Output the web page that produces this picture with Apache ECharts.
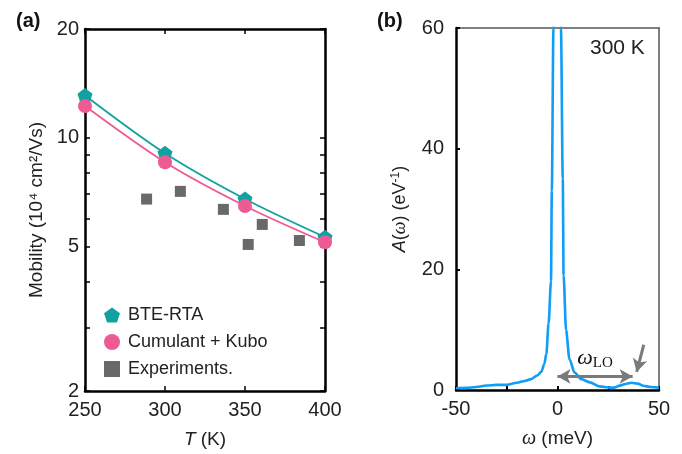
<!DOCTYPE html>
<html><head><meta charset="utf-8">
<script src="https://cdn.jsdelivr.net/npm/echarts@6/dist/echarts.min.js"></script>
<style>html,body{margin:0;padding:0;background:#fff}#c{width:682px;height:454px}</style>
</head><body><div id="c"></div>
<script>
// ---- Panel (a): mobility vs temperature ----
const temps = [250, 300, 350, 400];
const bteRta = [13.1, 9.07, 6.78, 5.32];
const cumulantKubo = [12.25, 8.57, 6.49, 5.15];
const expT = [288.5, 309.6, 336.5, 352, 360.8, 384];
const expMobility = [6.78, 7.12, 6.35, 5.08, 5.77, 5.21];
const mobilityLabels = [2, 5, 10, 20];
const mobilityTicks = [2, 3, 4, 5, 6, 7, 8, 9, 10, 20];

// ---- Panel (b): spectral function at 300 K ----
const omega = [-50, -45, -40, -35, -30, -25, -20, -16, -13, -10, -8, -6.5, -5.5, -4.4, -3.2, -2.8, -2.0, -1.2, -0.2, 0.8, 1.7, 2.6, 3.0, 4.2, 5.9, 8.4, 11.7, 15.9, 20.8, 25.8, 28, 30.7, 33.5, 36.5, 39.5, 42.3, 46, 50];
const spectral = [0.3, 0.35, 0.5, 0.75, 0.85, 0.85, 1.2, 1.5, 1.8, 2.4, 3.0, 4.3, 6, 11, 18, 33, 60, 85, 100, 85, 60, 35, 19, 10, 5.1, 2.9, 1.8, 1.27, 0.6, 0.4, 0.4, 0.72, 1.0, 1.2, 1.05, 0.7, 0.5, 0.4];
const omegaLabels = [-50, 0, 50];
const omegaLOArrow = [[0, 2.25], [37, 2.25]];
const pointerArrow = [[42.5, 7.5], [39, 3.0]];

const FONT = "'Liberation Sans', Helvetica, Arial, sans-serif";
const SERIF = "'Liberation Serif', 'DejaVu Serif', serif";
const pentagon = 'path://M0,-1 L0.951,-0.309 L0.588,0.809 L-0.588,0.809 L-0.951,-0.309 Z';
const TEAL = '#12A1A1', PINK = '#EE5B94', GREY = '#444444', BLUE = '#0F9DF7', ARROW = '#7a7a7a';

const zip = (a, b) => a.map((v, i) => [v, b[i]]);

const blackLine = {onZero: false, lineStyle: {color: '#000', width: 2.5}};
const greyLine = {onZero: false, lineStyle: {color: '#555', width: 1.5}};
const tickIn = {show: true, inside: true, length: 5, lineStyle: {color: '#000', width: 1.5}};
const lbl = {fontSize: 20, color: '#222', fontFamily: FONT};

const chart = echarts.init(document.getElementById('c'));
chart.setOption({
  animation: false,
  backgroundColor: '#fff',
  textStyle: {fontFamily: FONT},
  title: [
    {text: '(a)', left: 11, top: 6, textStyle: {fontSize: 20, fontWeight: 'bold', color: '#111', fontFamily: FONT}},
    {text: '(b)', left: 372, top: 6, textStyle: {fontSize: 20, fontWeight: 'bold', color: '#111', fontFamily: FONT}},
    {text: '300 K', left: 585, top: 33, textStyle: {fontSize: 21, fontWeight: 'normal', color: '#222', fontFamily: FONT}}
  ],
  grid: [
    {left: 85, top: 29, width: 240, height: 362},
    {left: 456, top: 28, width: 203, height: 363}
  ],
  legend: {
    orient: 'vertical', left: 99, top: 301, itemWidth: 16, itemHeight: 16, itemGap: 9,
    textStyle: {fontSize: 18, color: '#222', fontFamily: FONT, padding: [0, 0, 0, 3]},
    data: [
      {name: 'BTE-RTA', icon: pentagon},
      {name: 'Cumulant + Kubo', icon: 'circle'},
      {name: 'Experiments.', icon: 'rect'}
    ]
  },
  xAxis: [
    {gridIndex: 0, type: 'value', position: 'bottom', min: 250, max: 400, interval: 50,
     axisLine: blackLine, axisTick: tickIn, splitLine: {show: false},
     axisLabel: Object.assign({margin: 9}, lbl),
     name: '{i|T} (K)', nameLocation: 'middle', nameGap: 39,
     nameTextStyle: {fontSize: 19, color: '#222', fontFamily: FONT, rich: {i: {fontStyle: 'italic', fontSize: 19, fontFamily: FONT}}}},
    {gridIndex: 0, type: 'value', position: 'top', min: 250, max: 400, interval: 50,
     axisLine: blackLine, axisTick: tickIn, axisLabel: {show: false}, splitLine: {show: false}},
    {gridIndex: 1, type: 'value', position: 'bottom', min: -50, max: 50, interval: 25,
     axisLine: blackLine, axisTick: {show: true, inside: true, length: 4, lineStyle: {color: '#000', width: 2}},
     splitLine: {show: false},
     axisLabel: Object.assign({margin: 9, customValues: omegaLabels}, lbl),
     name: '{i|ω} (meV)', nameLocation: 'middle', nameGap: 39,
     nameTextStyle: {fontSize: 19, color: '#222', fontFamily: FONT, rich: {i: {fontStyle: 'italic', fontSize: 20, fontFamily: SERIF}}}},
    {gridIndex: 1, type: 'value', position: 'top', min: -50, max: 50,
     axisLine: greyLine, axisTick: {show: false}, axisLabel: {show: false}, splitLine: {show: false}}
  ],
  yAxis: [
    {gridIndex: 0, type: 'log', logBase: 10, position: 'left', min: 2, max: 20,
     axisLine: blackLine, axisTick: Object.assign({customValues: mobilityTicks}, tickIn),
     minorTick: {show: false}, splitLine: {show: false},
     axisLabel: Object.assign({margin: 6, customValues: mobilityLabels}, lbl),
     name: 'Mobility (10⁴ cm²/Vs)', nameLocation: 'middle', nameGap: 39,
     nameTextStyle: {fontSize: 19, color: '#222', fontFamily: FONT}},
    {gridIndex: 0, type: 'log', logBase: 10, position: 'right', min: 2, max: 20,
     axisLine: blackLine, axisTick: Object.assign({customValues: mobilityTicks}, tickIn),
     minorTick: {show: false}, splitLine: {show: false}, axisLabel: {show: false}},
    {gridIndex: 1, type: 'value', position: 'left', min: 0, max: 60, interval: 20,
     axisLine: blackLine, axisTick: {show: true, inside: true, length: 4, lineStyle: {color: '#000', width: 2}},
     splitLine: {show: false},
     axisLabel: Object.assign({margin: 12}, lbl),
     name: '{i|A}({w|ω}) (eV{s|-1})', nameLocation: 'middle', nameGap: 46,
     nameTextStyle: {fontSize: 18, color: '#222', fontFamily: FONT,
       rich: {i: {fontStyle: 'italic', fontSize: 18, fontFamily: FONT},
              w: {fontStyle: 'italic', fontSize: 18, fontFamily: SERIF},
              s: {fontSize: 12, fontFamily: FONT, verticalAlign: 'top', lineHeight: 20}}}},
    {gridIndex: 1, type: 'value', position: 'right', min: 0, max: 60,
     axisLine: greyLine, axisTick: {show: false}, axisLabel: {show: false}, splitLine: {show: false}}
  ],
  series: [
    {name: 'BTE-RTA', type: 'line', xAxisIndex: 0, yAxisIndex: 0, data: zip(temps, bteRta),
     smooth: 0.3, symbol: pentagon, symbolSize: 15, showAllSymbol: true,
     lineStyle: {color: TEAL, width: 1.8}, itemStyle: {color: TEAL}, z: 3},
    {name: 'Cumulant + Kubo', type: 'line', xAxisIndex: 0, yAxisIndex: 0, data: zip(temps, cumulantKubo),
     smooth: 0.3, symbol: 'circle', symbolSize: 14,
     lineStyle: {color: PINK, width: 1.8}, itemStyle: {color: PINK}, z: 4},
    {name: 'Experiments.', type: 'scatter', xAxisIndex: 0, yAxisIndex: 0, data: zip(expT, expMobility),
     symbol: 'rect', symbolSize: 11, itemStyle: {color: GREY}, z: 2},
    {name: 'A', type: 'line', xAxisIndex: 2, yAxisIndex: 2, data: zip(omega, spectral),
     smooth: 0.3, smoothMonotone: 'x', showSymbol: false, clip: true,
     lineStyle: {color: BLUE, width: 2.6}, itemStyle: {color: BLUE},
     markLine: {
       silent: true, animation: false, symbolSize: [11, 13],
       lineStyle: {color: ARROW, width: 3, type: 'solid'},
       data: [
         [{coord: omegaLOArrow[0], symbol: 'arrow',
           label: {show: true, position: 'insideMiddleTop', distance: 6, formatter: '{w|ω}{s|LO}', color: '#111',
             rich: {w: {fontFamily: SERIF, fontStyle: 'italic', fontSize: 22, lineHeight: 24, color: '#111'},
                    s: {fontFamily: SERIF, fontSize: 15, verticalAlign: 'bottom', lineHeight: 14, color: '#111'}}}},
          {coord: omegaLOArrow[1], symbol: 'arrow'}],
         [{coord: pointerArrow[0], symbol: 'none', label: {show: false}},
          {coord: pointerArrow[1], symbol: 'arrow'}]
       ]
     }}
  ]
});
</script>
</body></html>
